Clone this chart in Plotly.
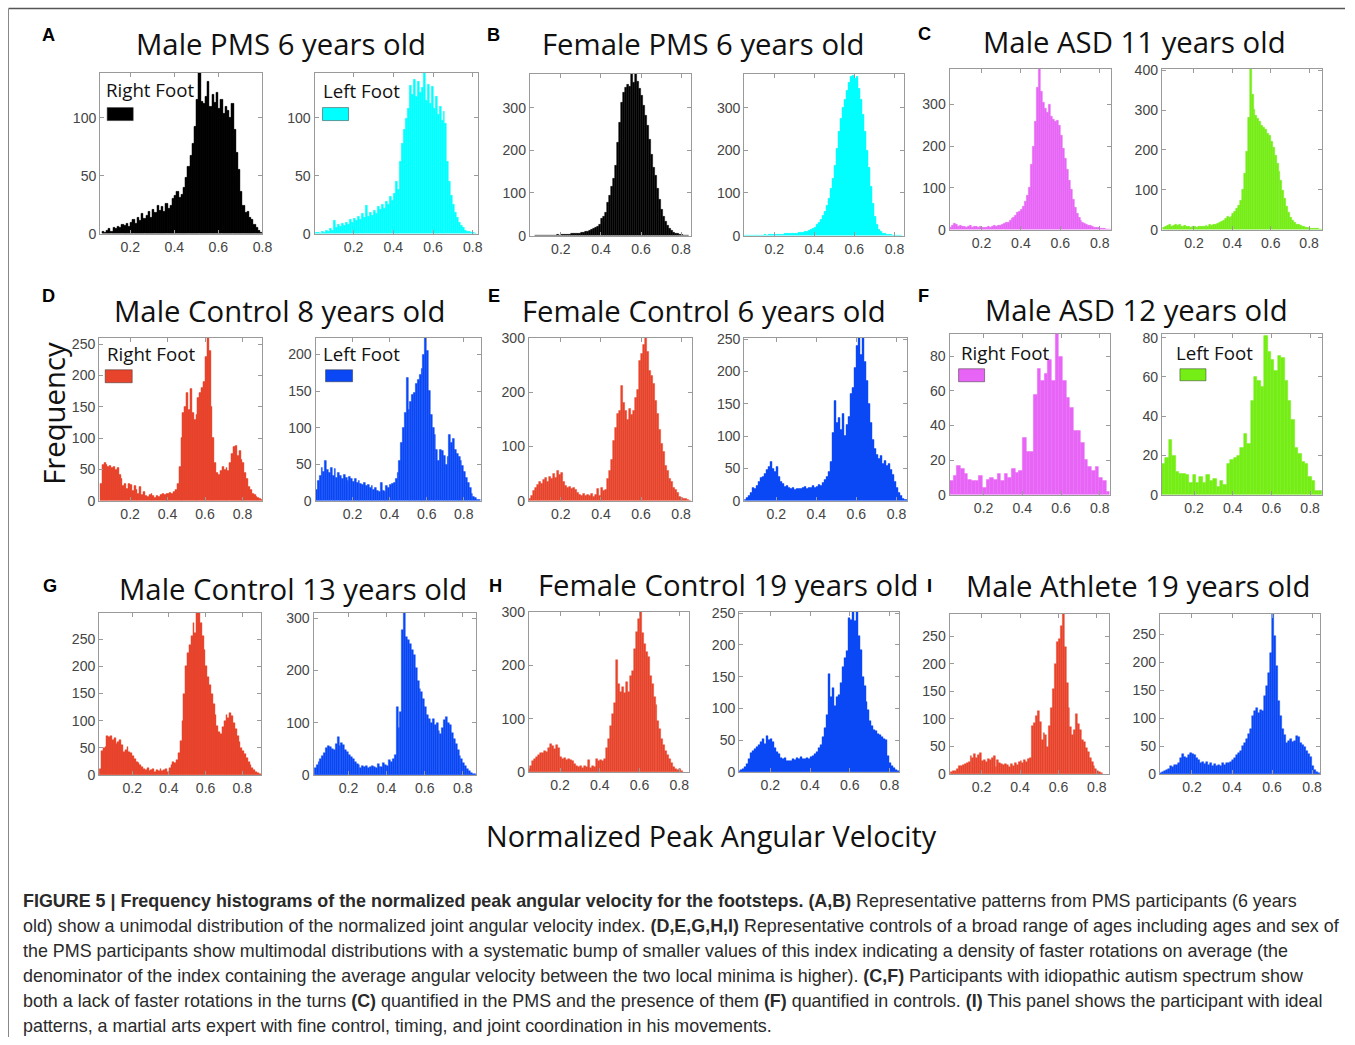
import plotly.graph_objects as go

# ---------------- data (histogram counts, bin starts, bin widths) ----------------
A_R_X0, A_R_W = 0.07, 0.01
A_R = [2,1,3,4,2,5,4,6,5,8, 7,9,6,10,12,9,14,11,17,13, 16,19,14,21,18,24,20,23,19,26,
       22,24,30,33,36,31,34,40,48,58, 67,78,92,116,139,114,112,118,131,110,
       120,113,122,108,116,104,110,106,100,112, 90,70,55,36,24,18,19,14,12,8, 5,3,1]
A_L_X0, A_L_W = 0.01, 0.01
A_L = [1,1,0,2,1,3,2,4,3,11, 5,8,6,9,7,10,8,12,10,13, 11,15,12,17,14,24,15,18,16,20,
       17,23,21,25,22,28,25,32,29,35, 45,38,62,78,90,99,108,128,120,133,
       118,131,122,126,139,115,129,112,127,108, 118,103,110,98,105,95,62,45,33,25,
       18,14,10,7,5,3,2,2,1,1, 0]
B_R_X0, B_R_W = 0.07, 0.01
B_R = [0,1,0,0,1,0,1,1,0,1, 1,2,1,2,2,3,2,3,4,4, 5,6,5,7,8,9,10,12,14,16,
       18,22,27,39,45,55,78,95,115,135, 165,219,265,312,335,348,355,350,380,360,
       380,362,345,328,305,282,258,225,190,160, 140,110,85,62,45,32,23,16,11,8,
       6,4,3,2,1,1,0]
B_L_X0, B_L_W = 0.05, 0.01
B_L = [0,0,1,0,1,1,0,1,1,1, 2,1,2,2,2,3,2,3,3,3, 4,4,5,4,6,5,6,7,8,8,
       9,10,12,14,17,20,25,30,38,46, 56,70,88,110,135,165,205,245,275,300,
       320,340,360,372,375,368,372,345,318,285, 245,200,160,115,75,45,25,15,9,6,
       4,3,2,2,1,1,0,1,0]
C_R_X0, C_R_W = 0.04, 0.01
C_R = [6,10,15,12,8,9,7,8,6,7, 9,6,7,8,6,7,5,6,5,7, 6,8,9,8,10,11,12,14,16,18,
       22,26,30,35,40,44,48,55,68,82, 100,155,200,260,340,386,330,305,290,280,
       300,270,265,260,262,250,225,195,170,145, 118,95,72,52,38,28,22,18,15,13,
       11,10,8,6,5,4,3,2,2,1, 1,0]
C_L_X0, C_L_W = 0.04, 0.01
C_L = [5,8,10,12,9,11,13,10,12,9, 8,10,7,9,6,8,7,6,8,7, 9,8,10,9,12,11,14,13,16,18,
       21,24,28,32,30,34,40,46,52,60, 72,100,140,195,280,404,340,300,285,278,
       270,262,255,250,242,235,222,205,185,165, 145,122,98,78,58,42,30,22,17,14,
       12,10,8,7,6,5,4,3,3,2, 2,1,1]
D_R_X0, D_R_W = 0.04, 0.01
D_R = [28,58,60,57,55,56,52,54,50,52, 42,35,24,28,20,27,25,16,24,18, 12,22,10,14,8,6,10,12,8,5,
       8,7,9,11,10,12,12,13,12,15, 18,28,55,100,140,150,172,145,178,140,
       130,138,165,172,180,190,230,260,240,150, 100,60,45,42,48,55,50,52,48,60,
       75,86,88,72,80,65,60,45,35,22, 18,12,10,7,5,3,1]
D_L_X0, D_L_W = 0.0, 0.01
D_L = [15,28,35,45,40,55,42,38,45,35, 44,32,38,35,30,36,32,28,33,30, 26,30,25,28,24,22,25,20,22,18,
       20,15,18,14,12,25,14,12,20,18, 22,24,25,30,38,55,80,100,120,168,
       125,135,145,148,160,165,172,180,200,223, 205,150,118,100,90,70,55,70,68,62,
       50,60,90,80,85,70,65,60,55,48, 40,32,25,18,10,6,4,2,1]
E_R_X0, E_R_W = 0.04, 0.01
E_R = [3,10,18,25,30,35,32,38,42,36, 45,40,50,42,55,48,52,35,28,24, 26,22,24,20,15,12,10,14,9,12,
       10,14,8,12,22,10,24,18,20,40, 55,75,110,135,160,165,212,180,165,150,
       170,158,165,190,205,258,270,288,300,275, 240,230,215,185,160,130,105,90,65,55,
       40,35,25,20,15,8,5,3,4,2, 1]
E_L_X0, E_L_W = 0.04, 0.01
E_L = [2,5,8,12,20,18,24,30,36,38, 42,48,52,60,50,45,52,38,30,26, 22,24,20,18,20,17,18,19,18,20,
       22,19,21,20,23,21,22,25,24,28, 32,38,45,60,105,155,120,128,110,135,
       100,118,130,165,175,205,240,252,225,252, 215,185,150,120,95,80,72,65,70,58,
       62,55,58,48,40,30,20,12,8,4, 2,1]
F_R_X0, F_R_W = 0.025, 0.0188
F_R = [8,11,17,15,12,9,8,8,11,4, 9,10,9,12,8,12,10,15,13,14, 33,25,25,58,73,66,70,78,66,93,
       80,66,56,50,37,37,30,20,16,14, 16,10,8,2]
F_L_X0, F_L_W = 0.034, 0.0176
F_L = [16,19,28,20,12,11,11,10,6,10, 6,9,6,10,7,8,4,7,5,16, 18,19,20,24,31,26,48,60,58,55,
       81,73,69,63,71,70,58,48,38,24, 21,17,16,9,7,2,2]
G_R_X0, G_R_W = 0.02, 0.01
G_R = [12,45,50,52,72,70,71,65,68,58, 60,64,55,42,46,52,42,40,35,30, 25,22,18,15,12,10,14,7,9,12,
       6,10,8,11,7,9,12,6,14,18, 24,22,28,40,62,100,150,200,225,240,
       255,280,262,298,298,280,255,230,200,180, 165,150,130,110,90,80,75,88,100,110,
       105,115,108,96,85,72,60,50,45,38, 32,24,18,14,10,6,4,2]
G_L_X0, G_L_W = 0.02, 0.01
G_L = [14,20,25,30,36,42,52,56,54,50, 48,60,72,56,62,58,48,44,38,34, 30,26,22,20,14,18,15,17,14,16,
       18,15,14,22,16,15,24,20,18,28, 25,30,38,130,90,120,278,310,265,258,
       250,240,230,205,180,165,158,145,130,115, 108,100,108,95,100,85,78,90,105,112,
       100,95,80,70,60,48,36,30,24,18, 12,8,5,3,2]
H_R_X0, H_R_W = 0.04, 0.01
H_R = [5,12,20,25,28,32,35,36,40,38, 45,52,48,44,50,46,28,24,26,23, 24,22,20,16,12,10,12,8,11,9,
       22,8,12,10,24,20,22,21,24,45, 62,86,108,130,210,165,150,160,148,168,
       150,180,190,230,262,286,300,260,240,225, 215,180,165,140,125,95,80,62,50,40,
       32,25,18,10,6,4,5,2]
H_L_X0, H_L_W = 0.04, 0.01
H_L = [2,3,5,8,12,20,30,34,36,40, 42,48,52,45,57,50,52,48,38,32, 28,22,20,22,18,17,18,20,19,22,
       20,24,21,20,22,20,24,26,28,32, 38,42,55,70,90,155,118,132,104,118,
       122,140,166,180,190,242,240,252,238,252, 215,192,150,135,110,98,80,72,66,64,
       60,58,56,52,50,25,14,10,6,3, 2]
I_R_X0, I_R_W = 0.04, 0.01
I_R = [3,5,6,10,14,15,17,18,20,22, 32,30,36,29,34,38,24,26,22,28, 25,30,32,12,26,20,18,17,19,16,
       12,18,14,20,16,22,24,20,26,22, 28,30,88,92,105,114,95,62,75,70,
       50,88,120,155,200,240,245,268,290,230, 165,120,85,70,80,108,90,80,62,58,
       48,40,30,22,14,10,6,3,2]
I_L_X0, I_L_W = 0.04, 0.01
I_L = [2,4,5,8,10,14,12,17,16,20, 28,36,30,29,35,38,36,34,29,25, 20,22,18,22,16,20,15,18,14,17,
       15,20,17,19,20,22,26,29,34,38, 42,50,55,62,72,80,104,112,118,110,
       115,112,140,157,181,217,286,246,193,130, 104,80,70,56,60,62,58,60,68,66,
       56,52,48,42,36,30,14,8,4,2]

X_TICKS = [0.2, 0.4, 0.6, 0.8]
X_TICK_TEXT = ["0.2", "0.4", "0.6", "0.8"]

TITLES = ["Male PMS 6 years old", "Female PMS 6 years old", "Male ASD 11 years old",
          "Male Control 8 years old", "Female Control 6 years old", "Male ASD 12 years old",
          "Male Control 13 years old", "Female Control 19 years old", "Male Athlete 19 years old"]
LETTERS = ["A", "B", "C", "D", "E", "F", "G", "H", "I"]
LEGEND_TEXT = ["Right Foot", "Left Foot"]

CAPTION = [
    "<b>FIGURE 5 | Frequency histograms of the normalized peak angular velocity for the footsteps. (A,B)</b> Representative patterns from PMS participants (6 years",
    "old) show a unimodal distribution of the normalized joint angular velocity index. <b>(D,E,G,H,I)</b> Representative controls of a broad range of ages including ages and sex of",
    "the PMS participants show multimodal distributions with a systematic bump of smaller values of this index indicating a density of faster rotations on average (the",
    "denominator of the index containing the average angular velocity between the two local minima is higher). <b>(C,F)</b> Participants with idiopathic autism spectrum show",
    "both a lack of faster rotations in the turns <b>(C)</b> quantified in the PMS and the presence of them <b>(F)</b> quantified in controls. <b>(I)</b> This panel shows the participant with ideal",
    "patterns, a martial arts expert with fine control, timing, and joint coordination in his movements.",
]

# ---------------- styling / layout ----------------
W, H = 1355, 1045
# the photographed page shows the figure slightly scaled and shifted down; compensate
SX, SY, OY = 0.991, 0.984, 7.5
BLACK, CYAN = "#000000", "#00FFFF"
MAGENTA, GREEN = "#E864F6", "#74EE15"
RED, BLUE = "#E8432B", "#0A47F5"


def fx(px):
    return (px / SX) / W


def fy(py):
    return 1 - ((py - OY) / SY) / H


def fs(size):
    return round(size / SX, 1)


panels = [
    # counts, x0, w, color, (left, right, top, bottom) px, xrange, yrange, yticks
    (A_R, A_R_X0, A_R_W, BLACK, (100, 262, 72, 233), [0.063, 0.80], [0, 139], [0, 50, 100]),
    (A_L, A_L_X0, A_L_W, CYAN, (314, 477, 72, 233), [0.003, 0.825], [0, 139], [0, 50, 100]),
    (B_R, B_R_X0, B_R_W, BLACK, (529, 690, 73, 235), [0.045, 0.85], [0, 380], [0, 100, 200, 300]),
    (B_L, B_L_X0, B_L_W, CYAN, (743, 903, 73, 235), [0.05, 0.85], [0, 380], [0, 100, 200, 300]),
    (C_R, C_R_X0, C_R_W, MAGENTA, (948, 1109, 68, 229), [0.038, 0.856], [0, 386], [0, 100, 200, 300]),
    (C_L, C_L_X0, C_L_W, GREEN, (1160, 1320, 68, 229), [0.033, 0.868], [0, 404], [0, 100, 200, 300, 400]),
    (D_R, D_R_X0, D_R_W, RED, (99, 262, 337, 500), [0.035, 0.906], [0, 260], [0, 50, 100, 150, 200, 250]),
    (D_L, D_L_X0, D_L_W, BLUE, (315, 480, 337, 500), [0.0, 0.892], [0, 223], [0, 50, 100, 150, 200]),
    (E_R, E_R_X0, E_R_W, RED, (528, 691, 337, 500), [0.04, 0.855], [0, 300], [0, 100, 200, 300]),
    (E_L, E_L_X0, E_L_W, BLUE, (743, 906, 337, 500), [0.04, 0.855], [0, 252], [0, 50, 100, 150, 200, 250]),
    (F_R, F_R_X0, F_R_W, MAGENTA, (948, 1108, 333, 494), [0.024, 0.852], [0, 93], [0, 20, 40, 60, 80]),
    (F_L, F_L_X0, F_L_W, GREEN, (1160, 1320, 333, 494), [0.034, 0.862], [0, 82], [0, 20, 40, 60, 80]),
    (G_R, G_R_X0, G_R_W, RED, (99, 261, 612, 774), [0.02, 0.904], [0, 298], [0, 50, 100, 150, 200, 250]),
    (G_L, G_L_X0, G_L_W, BLUE, (313, 475, 612, 774), [0.016, 0.868], [0, 310], [0, 100, 200, 300]),
    (H_R, H_R_X0, H_R_W, RED, (528, 688, 611, 771), [0.043, 0.85], [0, 300], [0, 100, 200, 300]),
    (H_L, H_L_X0, H_L_W, BLUE, (738, 898, 611, 771), [0.043, 0.85], [0, 252], [0, 50, 100, 150, 200, 250]),
    (I_R, I_R_X0, I_R_W, RED, (948, 1107, 613, 773), [0.033, 0.862], [0, 290], [0, 50, 100, 150, 200, 250]),
    (I_L, I_L_X0, I_L_W, BLUE, (1158, 1318, 613, 773), [0.04, 0.84], [0, 286], [0, 50, 100, 150, 200, 250]),
]

fig = go.Figure()
layout = {}
TICKFONT = dict(family="Liberation Sans, Arial, sans-serif", size=fs(14), color="#444444")
AXCOL = "#9a9a9a"

for i, (counts, x0, w, color, box, xr, yr, yt) in enumerate(panels):
    n = i + 1
    xs = [x0 + w * (k + 0.5) for k in range(len(counts))]
    fig.add_trace(go.Bar(
        x=xs, y=counts, width=w,
        marker=dict(color=color, line=dict(color=color, width=0.4)),
        xaxis=f"x{n}", yaxis=f"y{n}", showlegend=False, hoverinfo="x+y",
    ))
    l, r, t, b = box
    sfx = "" if n == 1 else str(n)
    layout[f"xaxis{sfx}"] = dict(
        domain=[fx(l), fx(r)], range=xr, anchor=f"y{n}",
        tickvals=X_TICKS, ticktext=X_TICK_TEXT, ticks="inside", ticklen=4,
        tickcolor=AXCOL, tickwidth=1, showline=True, linecolor=AXCOL, linewidth=1,
        mirror="ticks", showgrid=False, zeroline=False, tickfont=TICKFONT,
        fixedrange=True,
    )
    layout[f"yaxis{sfx}"] = dict(
        domain=[fy(b), fy(t)], range=yr, anchor=f"x{n}",
        tickvals=yt, ticks="inside", ticklen=4,
        tickcolor=AXCOL, tickwidth=1, showline=True, linecolor=AXCOL, linewidth=1,
        mirror="ticks", showgrid=False, zeroline=False, tickfont=TICKFONT,
        fixedrange=True,
    )

annotations = []
TITLE_FONT = dict(family="Open Sans, Noto Sans, sans-serif", size=fs(29), color="#111111")
title_pos = [(281, 43), (702, 43), (1133, 41), (279, 310), (703, 310), (1135, 309),
             (293, 588), (727, 584), (1136, 585)]
for txt, (px, py) in zip(TITLES, title_pos):
    annotations.append(dict(text=txt, x=fx(px), y=fy(py), xref="paper", yref="paper",
                            xanchor="center", yanchor="middle", showarrow=False, font=TITLE_FONT))

LETTER_FONT = dict(family="Liberation Sans, Arial, sans-serif", size=fs(18), color="#000000")
letter_pos = [(48, 34), (493, 34), (923, 33), (48, 295), (493, 295), (922, 295),
              (50, 585), (495, 585), (928, 585)]
for txt, (px, py) in zip(LETTERS, letter_pos):
    annotations.append(dict(text=f"<b>{txt}</b>", x=fx(px), y=fy(py), xref="paper", yref="paper",
                            xanchor="center", yanchor="middle", showarrow=False, font=LETTER_FONT))

# legends (text + swatch) for panels A, D, F
LEG_FONT = dict(family="Open Sans, Noto Sans, sans-serif", size=fs(18.5), color="#111111")
legends = [
    # text left x, text center y, swatch (x0, x1, y0, y1), color, label index
    (104, 89, (107, 133, 107, 120), BLACK, 0),
    (320, 90, (322, 348, 107, 120), CYAN, 1),
    (105, 353, (105, 132, 369, 382), RED, 0),
    (320, 353, (325, 352, 369, 381), BLUE, 1),
    (957, 352, (957, 983, 368, 381), MAGENTA, 0),
    (1172, 352, (1178, 1204, 368, 380), GREEN, 1),
]
shapes = []
for tx, ty, (sx0, sx1, sy0, sy1), col, li in legends:
    annotations.append(dict(text=LEGEND_TEXT[li], x=fx(tx), y=fy(ty), xref="paper", yref="paper",
                            xanchor="left", yanchor="middle", showarrow=False, font=LEG_FONT))
    shapes.append(dict(type="rect", xref="paper", yref="paper", x0=fx(sx0), x1=fx(sx1),
                       y0=fy(sy1), y1=fy(sy0), fillcolor=col, line=dict(color="#333333", width=0.5)))

annotations.append(dict(text="Frequency", x=fx(54), y=fy(413), xref="paper", yref="paper",
                        xanchor="center", yanchor="middle", textangle=-90, showarrow=False,
                        font=dict(family="Open Sans, Noto Sans, sans-serif", size=fs(29), color="#111111")))
annotations.append(dict(text="Normalized Peak Angular Velocity", x=fx(710), y=fy(834),
                        xref="paper", yref="paper", xanchor="center", yanchor="middle",
                        showarrow=False,
                        font=dict(family="Open Sans, Noto Sans, sans-serif", size=fs(28.5), color="#111111")))

CAP_FONT = dict(family="Liberation Sans, Arial, sans-serif", size=17.9, color="#2a2a2a")
for k, line in enumerate(CAPTION):
    annotations.append(dict(text=line, x=fx(21), y=fy(900 + 25 * k), xref="paper", yref="paper",
                            xanchor="left", yanchor="middle", showarrow=False, font=CAP_FONT,
                            align="left"))

# figure frame
shapes.append(dict(type="line", xref="paper", yref="paper", x0=fx(8.5), x1=1.0, y0=fy(8), y1=fy(8),
                   line=dict(color="#555555", width=1.5)))
shapes.append(dict(type="line", xref="paper", yref="paper", x0=fx(8.5), x1=fx(8.5), y0=fy(8), y1=0.0,
                   line=dict(color="#888888", width=1)))

fig.update_layout(
    width=W, height=H, margin=dict(l=0, r=0, t=0, b=0),
    paper_bgcolor="white", plot_bgcolor="white",
    annotations=annotations, shapes=shapes, bargap=0, **layout,
)

fig.write_html("out.html")
